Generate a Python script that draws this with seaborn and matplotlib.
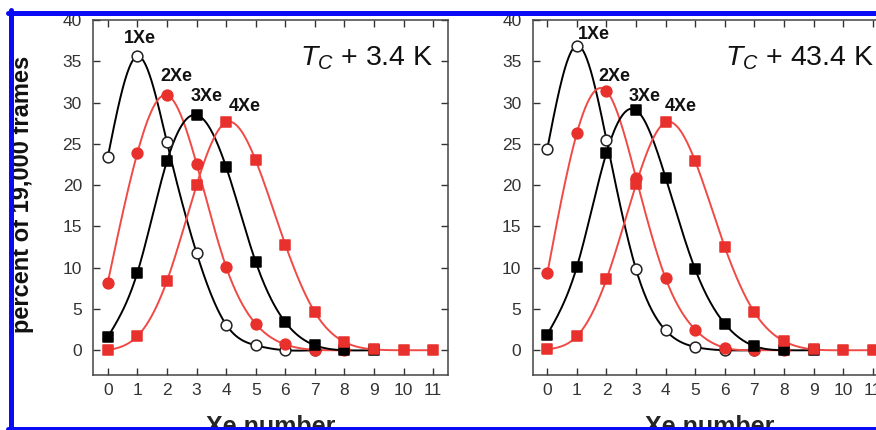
import numpy as np
import pandas as pd
import matplotlib
matplotlib.use('Agg')
import matplotlib.pyplot as plt
from matplotlib.lines import Line2D
import seaborn as sns

# Xe occupancy distributions (percent of 19,000 frames)
xe_number = list(range(12))

# T_C + 3.4 K
low_1xe = [23.4, 35.6, 25.2, 11.8, 3.1, 0.6, 0.0, 0.0]
low_2xe = [8.2, 23.9, 30.9, 22.6, 10.1, 3.2, 0.7, 0.05, 0.0]
low_3xe = [1.6, 9.4, 22.9, 28.5, 22.2, 10.7, 3.4, 0.6, 0.0, 0.0]
low_4xe = [0.0, 1.7, 8.4, 20.0, 27.6, 23.0, 12.8, 4.6, 1.0, 0.1, 0.0, 0.0]

# T_C + 43.4 K
high_1xe = [24.4, 36.9, 25.5, 9.8, 2.4, 0.4, 0.0, 0.0]
high_2xe = [9.3, 26.3, 31.4, 20.9, 8.7, 2.5, 0.3, 0.0, 0.0]
high_3xe = [1.9, 10.1, 23.9, 29.1, 20.9, 9.8, 3.2, 0.5, 0.0, 0.0]
high_4xe = [0.1, 1.7, 8.6, 20.1, 27.6, 22.9, 12.5, 4.6, 1.1, 0.1, 0.0, 0.0]

series_names = ['1Xe', '2Xe', '3Xe', '4Xe']
label_pos_low = [(1.1, 37.7), (2.33, 33.1), (3.35, 30.7), (4.64, 29.5)]
label_pos_high = [(1.57, 38.2), (2.27, 33.1), (3.29, 30.7), (4.5, 29.5)]
titles = ['+ 3.4 K', '+ 43.4 K']

RED = '#e8302c'
RED_LINE = '#ef4a45'
styles = [
    dict(line='black', marker='o', face='white', edge='#222222'),
    dict(line=RED_LINE, marker='o', face=RED, edge=RED),
    dict(line='black', marker='s', face='black', edge='black'),
    dict(line=RED_LINE, marker='s', face=RED, edge=RED),
]


def natural_spline(x, y, n=300):
    # natural cubic spline, just for the smooth connecting curve
    x = np.asarray(x, float)
    y = np.asarray(y, float)
    m = len(x)
    h = np.diff(x)
    A = np.zeros((m, m))
    b = np.zeros(m)
    A[0, 0] = 1
    A[-1, -1] = 1
    for i in range(1, m - 1):
        A[i, i - 1] = h[i - 1]
        A[i, i] = 2 * (h[i - 1] + h[i])
        A[i, i + 1] = h[i]
        b[i] = 6 * ((y[i + 1] - y[i]) / h[i] - (y[i] - y[i - 1]) / h[i - 1])
    M = np.linalg.solve(A, b)
    xs = np.linspace(x[0], x[-1], n)
    k = np.clip(np.searchsorted(x, xs) - 1, 0, m - 2)
    t0 = x[k + 1] - xs
    t1 = xs - x[k]
    hk = h[k]
    ys = (M[k] * t0 ** 3 / (6 * hk) + M[k + 1] * t1 ** 3 / (6 * hk)
          + (y[k] / hk - M[k] * hk / 6) * t0 + (y[k + 1] / hk - M[k + 1] * hk / 6) * t1)
    return xs, ys


sns.set_style('ticks')
plt.rcParams['font.family'] = ['Liberation Sans', 'DejaVu Sans']
plt.rcParams['mathtext.fontset'] = 'custom'
plt.rcParams['mathtext.it'] = 'Liberation Sans:italic'
plt.rcParams['mathtext.rm'] = 'Liberation Sans'

W, H = 876, 430
fig = plt.figure(figsize=(W / 100, H / 100), dpi=100)
fig.patch.set_facecolor('white')

ax_low = fig.add_axes([93 / W, 1 - 375 / H, 355 / W, 355 / H])
ax_high = fig.add_axes([532.5 / W, 1 - 375 / H, 355 / W, 355 / H])

panels = [
    (ax_low, [low_1xe, low_2xe, low_3xe, low_4xe], label_pos_low, titles[0], 6.5),
    (ax_high, [high_1xe, high_2xe, high_3xe, high_4xe], label_pos_high, titles[1], 6.0),
]

for ax, data, lpos, title, tx in panels:
    for vals, st, name, (lx, ly) in zip(data, styles, series_names, lpos):
        xv = xe_number[:len(vals)]
        xs, ys = natural_spline(xv, vals)
        sns.lineplot(x=xs, y=ys, color=st['line'], lw=1.4, ax=ax, zorder=2)
        df = pd.DataFrame({'x': xv, 'y': vals})
        sns.scatterplot(data=df, x='x', y='y', marker=st['marker'], s=60,
                        facecolor=st['face'], edgecolor=st['edge'], linewidth=1.1,
                        ax=ax, zorder=3)
        ax.text(lx, ly, name, ha='center', va='center', fontsize=13,
                fontweight='bold', color='#111111')
    ax.text(tx, 34.5, r'$T_{C}$ ' + title, ha='left', va='baseline',
            fontsize=20.5, color='#111111')
    ax.set_xlim(-0.5, 11.5)
    ax.set_ylim(-3, 40)
    ax.set_xticks(xe_number)
    ax.set_yticks(range(0, 41, 5))
    ax.tick_params(direction='in', length=5, width=1, top=True, right=True,
                   labelsize=12.5, colors='#333333', pad=6)
    ax.tick_params(axis='y', pad=8)
    for sp in ax.spines.values():
        sp.set_color('#444444')
        sp.set_linewidth(1.1)
    ax.set_xlabel('Xe number', fontsize=18, fontweight='bold', labelpad=12)
    ax.set_ylabel('')

fig.text(23 / W, 1 - 194 / H, 'percent of 19,000 frames', rotation=90,
         ha='center', va='center', fontsize=17, fontweight='bold', color='#111111')

# blue frame around the figure
blue = '#0a0af5'
fig.add_artist(Line2D([8 / W, 1], [1 - 12.5 / H, 1 - 12.5 / H], color=blue, lw=3.6,
                      transform=fig.transFigure, zorder=10))
fig.add_artist(Line2D([10.5 / W, 10.5 / W], [1 - 10 / H, 0], color=blue, lw=3.6,
                      transform=fig.transFigure, zorder=10))
fig.add_artist(Line2D([8 / W, 1], [1 - 428.5 / H, 1 - 428.5 / H], color=blue, lw=3.6,
                      transform=fig.transFigure, zorder=10))

fig.savefig('out.png', dpi=100, facecolor='white')
